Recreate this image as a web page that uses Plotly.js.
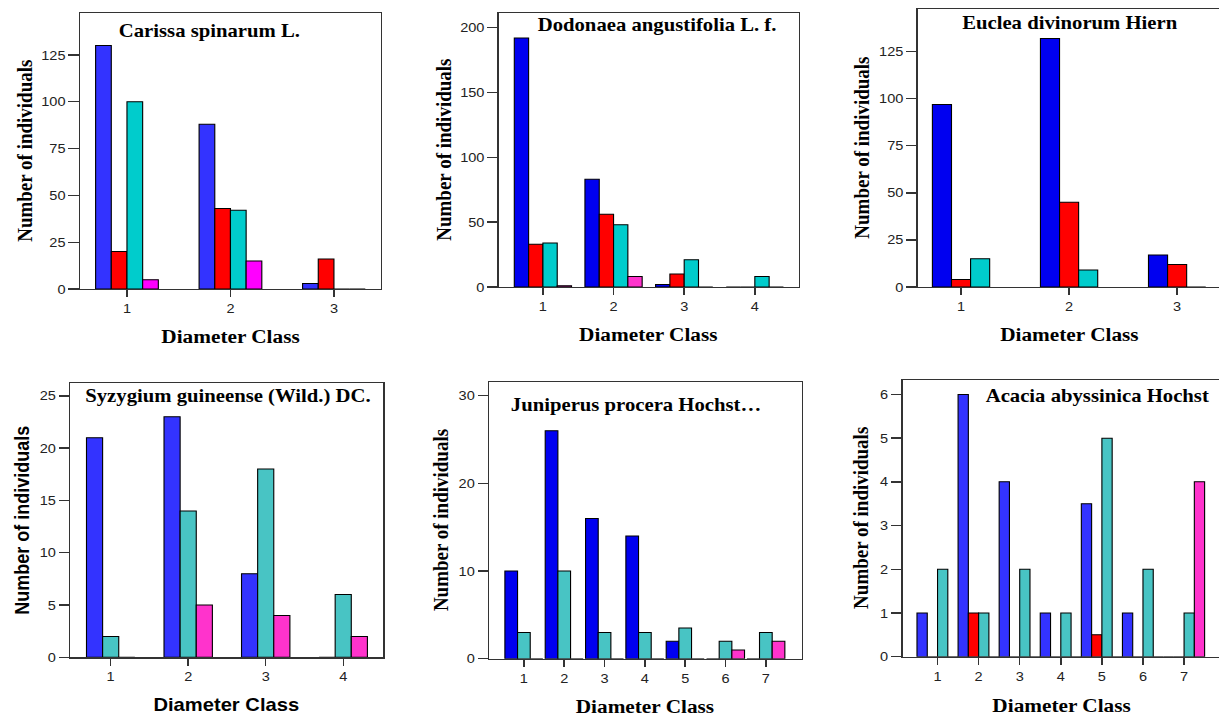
<!DOCTYPE html>
<html><head><meta charset="utf-8">
<script src="https://cdn.plot.ly/plotly-3.0.1.min.js"></script>
<style>
html,body{margin:0;padding:0;overflow:hidden;background:#fff;width:1219px;height:716px}
#wrap{position:absolute;left:0;top:0;transform:scaleX(1.12);transform-origin:0 0}
</style></head><body><div id="wrap"><div id="chart"></div></div>
<script>
// ---- data ----
const carissaClasses = [1, 2, 3];
const carissaBlue    = [130, 88, 3];
const carissaRed     = [20, 43, 16];
const carissaCyan    = [100, 42, 0];
const carissaMagenta = [5, 15, 0];

const dodonaeaClasses = [1, 2, 3, 4];
const dodonaeaBlue    = [192, 83, 2, 0];
const dodonaeaRed     = [33, 56, 10, 0];
const dodonaeaCyan    = [34, 48, 21, 8];
const dodonaeaMagenta = [1, 8, 0, 0];

const eucleaClasses = [1, 2, 3];
const eucleaBlue    = [97, 132, 17];
const eucleaRed     = [4, 45, 12];
const eucleaCyan    = [15, 9, 0];

const syzygiumClasses = [1, 2, 3, 4];
const syzygiumBlue    = [21, 23, 8, 0];
const syzygiumCyan    = [2, 14, 18, 6];
const syzygiumMagenta = [0, 5, 4, 2];

const juniperusClasses = [1, 2, 3, 4, 5, 6, 7];
const juniperusBlue    = [10, 26, 16, 14, 2, 0, 0];
const juniperusCyan    = [3, 10, 3, 3, 3.5, 2, 3];
const juniperusMagenta = [0, 0, 0, 0, 0, 1, 2];

const acaciaClasses = [1, 2, 3, 4, 5, 6, 7];
const acaciaBlue    = [1, 6, 4, 1, 3.5, 1, 0];
const acaciaRed     = [0, 1, 0, 0, 0.5, 0, 0];
const acaciaCyan    = [2, 1, 2, 1, 5, 2, 1];
const acaciaMagenta = [0, 0, 0, 0, 0, 0, 4];

const panelTitles = ["Carissa spinarum L.", "Dodonaea angustifolia L. f.", "Euclea divinorum Hiern",
                     "Syzygium guineense (Wild.) DC.", "Juniperus procera Hochst…", "Acacia abyssinica Hochst"];
const yTitle = "Number of individuals";
const xTitle = "Diameter Class";

// ---- layout / style configuration ----
const SX = 1.12, FW = 1230, FH = 716;
const SERIF = "Liberation Serif, Times New Roman, serif";
const SANS = "Liberation Sans, Arial, sans-serif";
const C = {blue1:'#3333ff', blue2:'#0000f0', red:'#ff0000', cyan1:'#00cccc', cyan2:'#48c4c4', mag1:'#ff00ff', mag2:'#ff33cc'};

const panels = [
  {classes: carissaClasses, series: [[carissaBlue,C.blue1],[carissaRed,C.red],[carissaCyan,C.cyan1],[carissaMagenta,C.mag1]],
   L:80, T:13, R:381, B:289, xr:[0.546,3.454], yr:[0,147.4], dt:25, gw:0.606,
   tx:209.5, ty:31.5, yx:24.5, xy:336.5, axFont:SERIF},
  {classes: dodonaeaClasses, series: [[dodonaeaBlue,C.blue2],[dodonaeaRed,C.red],[dodonaeaCyan,C.cyan1],[dodonaeaMagenta,C.mag2]],
   L:499, T:13, R:799, B:287, xr:[0.377,4.623], yr:[0,211.2], dt:50, gw:0.81,
   tx:656.7, ty:25.5, yx:444.5, xy:335, axFont:SERIF},
  {classes: eucleaClasses, series: [[eucleaBlue,C.blue2],[eucleaRed,C.red],[eucleaCyan,C.cyan1]],
   L:918, T:9.3, R:1221, B:287, xr:[0.6,3.404], yr:[0,147.5], dt:25, gw:0.53,
   tx:1070, ty:22.7, yx:861, xy:335, axFont:SERIF},
  {classes: syzygiumClasses, series: [[syzygiumBlue,C.blue1],[syzygiumCyan,C.cyan2],[syzygiumMagenta,C.mag2]],
   L:70.3, T:383.3, R:383.3, B:657.3, xr:[0.479,4.516], yr:[0,26.2], dt:5, gw:0.624,
   tx:228, ty:396.3, yx:23, xy:705, axFont:SANS},
  {classes: juniperusClasses, series: [[juniperusBlue,C.blue2],[juniperusCyan,C.cyan2],[juniperusMagenta,C.mag2]],
   L:489.3, T:382.3, R:801.7, B:658.7, xr:[0.14,7.885], yr:[0,31.53], dt:10, gw:0.942,
   tx:635.8, ty:404.7, yx:441, xy:706.5, axFont:SERIF},
  {classes: acaciaClasses, series: [[acaciaBlue,C.blue1],[acaciaRed,C.red],[acaciaCyan,C.cyan2],[acaciaMagenta,C.mag2]],
   L:902.7, T:380, R:1221, B:656.7, xr:[0.148,7.893], yr:[0,6.33], dt:1, gw:1.0,
   tx:1097.7, ty:396, yx:861, xy:705, axFont:SERIF}
];

const px = p => p / FW;
const py = p => 1 - p / FH;

const traces = [];
const layout = {
  width: FW / SX, height: FH, margin:{l:0,r:0,t:0,b:0}, showlegend:false,
  paper_bgcolor:'#fff', plot_bgcolor:'#fff', barmode:'overlay', annotations: []
};

panels.forEach((p, i) => {
  const k = i + 1, xa = 'xaxis' + (k === 1 ? '' : k), ya = 'yaxis' + (k === 1 ? '' : k);
  const bw = p.gw / p.series.length;
  p.series.forEach((s, j) => {
    traces.push({type:'bar', x: p.classes, y: s[0], xaxis:'x'+k, yaxis:'y'+k,
      width: bw, offset: -p.gw/2 + j*bw,
      marker:{color: s[1], line:{color:'#000', width:1}}, hoverinfo:'skip'});
  });
  const common = {showline:true, mirror:true, linecolor:'#333', linewidth:1.3, ticks:'outside',
    tickcolor:'#333', tickwidth:1.3, showgrid:false, zeroline:false, fixedrange:true,
    tickfont:{family:SANS, size:13, color:'#222'}};
  layout[xa] = Object.assign({}, common, {domain:[px(p.L), px(p.R)], anchor:'y'+k, range:p.xr,
    tickmode:'array', tickvals:p.classes, ticklen:7});
  layout[ya] = Object.assign({}, common, {domain:[py(p.B), py(p.T)], anchor:'x'+k, range:p.yr,
    tickmode:'linear', tick0:0, dtick:p.dt, ticklen:9});
  layout.annotations.push(
    {xref:'paper', yref:'paper', x:px(p.tx), y:py(p.ty), xanchor:'center', yanchor:'middle', showarrow:false,
     text:'<b>'+panelTitles[i]+'</b>', font:{family:SERIF, size:18.5, color:'#000'}},
    {xref:'paper', yref:'paper', x:px(p.yx), y:py((p.T+p.B)/2), xanchor:'center', yanchor:'middle', showarrow:false,
     textangle:-90, text:'<b>'+yTitle+'</b>', font:{family:p.axFont, size:p.axFont===SANS?18:19, color:'#000'}},
    {xref:'paper', yref:'paper', x:px((p.L+p.R)/2), y:py(p.xy), xanchor:'center', yanchor:'middle', showarrow:false,
     text:'<b>'+xTitle+'</b>', font:{family:p.axFont, size:p.axFont===SANS?18:19, color:'#000'}}
  );
});

Plotly.newPlot('chart', traces, layout, {staticPlot:true, displayModeBar:false});
</script></body></html>
